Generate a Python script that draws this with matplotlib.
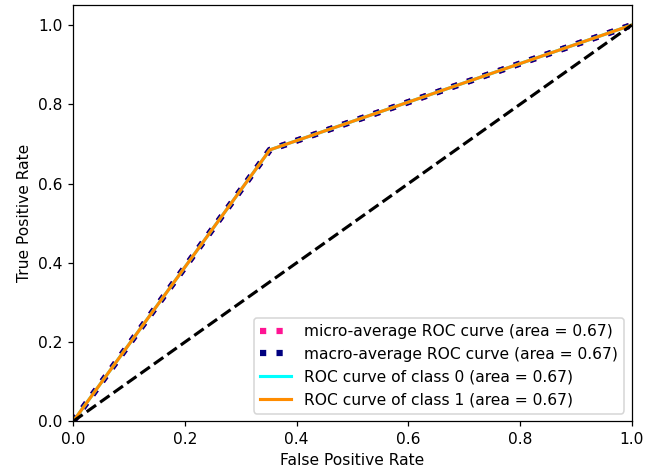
import matplotlib
matplotlib.use("Agg")
import matplotlib.pyplot as plt

# ROC points (all curves coincide)
fpr_micro = [0.0, 0.352, 1.0]
tpr_micro = [0.0, 0.685, 1.0]
fpr_macro = [0.0, 0.352, 1.0]
tpr_macro = [0.0, 0.685, 1.0]
fpr_class = {0: [0.0, 0.352, 1.0], 1: [0.0, 0.352, 1.0]}
tpr_class = {0: [0.0, 0.685, 1.0], 1: [0.0, 0.685, 1.0]}
auc_micro = 0.67
auc_macro = 0.67
auc_class = {0: 0.67, 1: 0.67}
class_colors = ["aqua", "darkorange"]

# rendered slightly larger than default, so use dpi 112
DPI = 112
fig = plt.figure(figsize=(648 / DPI, 475 / DPI), dpi=DPI)
fig.subplots_adjust(left=0.113, right=0.975, top=0.989, bottom=0.113)
ax = fig.add_subplot(111)

ax.plot(fpr_micro, tpr_micro,
        label="micro-average ROC curve (area = {0:0.2f})".format(auc_micro),
        color="deeppink", linestyle=":", linewidth=4)
ax.plot(fpr_macro, tpr_macro,
        label="macro-average ROC curve (area = {0:0.2f})".format(auc_macro),
        color="navy", linestyle=":", linewidth=4)

for i, color in enumerate(class_colors):
    ax.plot(fpr_class[i], tpr_class[i], color=color, lw=2,
            label="ROC curve of class {0} (area = {1:0.2f})".format(i, auc_class[i]))

ax.plot([0, 1], [0, 1], "k--", lw=2)
ax.set_xlim([0.0, 1.0])
ax.set_ylim([0.0, 1.05])
ax.set_xlabel("False Positive Rate")
ax.set_ylabel("True Positive Rate")
ax.legend(loc="lower right")

fig.savefig("out.png", dpi=DPI)
